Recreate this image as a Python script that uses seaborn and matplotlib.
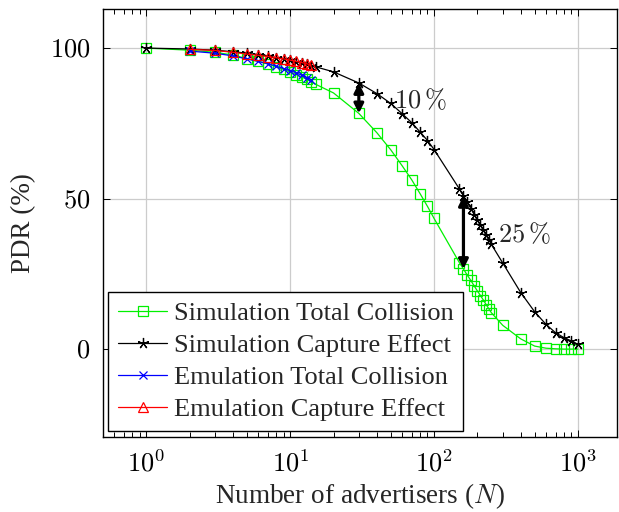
import numpy as np
import matplotlib
matplotlib.use('Agg')
import matplotlib.pyplot as plt
import matplotlib.ticker as mticker
import seaborn as sns

# ---------------------------------------------------------------
# data (PDR in %, N = number of advertisers)
# ---------------------------------------------------------------
n_sim = [1, 2, 3, 4, 5, 6, 7, 8, 9, 10, 11, 12, 13, 14, 15,
         20, 30, 40, 50, 60, 70, 80, 90, 100,
         150, 160, 170, 180, 190, 200, 210, 220, 230, 240, 250,
         300, 400, 500, 600, 700, 800, 900, 1000]

sim_total = [100, 99.3, 98.6, 97.7, 96.5, 95.6, 94.7, 93.8, 92.9, 92.1, 91.2, 90.4, 89.7, 88.8, 88.0,
             85.1, 78.3, 71.9, 66.2, 60.9, 56.2, 51.6, 47.4, 43.4,
             28.7, 26.6, 24.6, 22.8, 21.0, 19.3, 17.8, 16.3, 14.8, 13.4, 12.1,
             7.9, 3.4, 1.0, 0.3, 0.1, 0.0, 0.0, 0.0]

sim_capture = [100, 99.7, 99.3, 98.8, 98.3, 97.8, 97.3, 96.8, 96.4, 95.9, 95.5, 95.1, 94.6, 94.2, 93.8,
               92.1, 88.4, 84.9, 81.6, 78.2, 75.2, 72.1, 69.3, 66.3,
               53.2, 50.9, 48.8, 46.7, 44.7, 42.8, 41.1, 39.5, 37.8, 36.3, 34.8,
               28.6, 18.8, 12.4, 8.2, 5.4, 3.8, 2.7, 1.6]

n_emu = [2, 3, 4, 5, 6, 7, 8, 9, 10, 11, 12, 13, 14]
emu_total = [99.0, 98.3, 97.4, 96.4, 95.6, 94.8, 94.0, 93.2, 92.5, 91.8, 91.0, 90.2, 89.5]
emu_capture = [99.6, 99.2, 98.6, 98.0, 97.6, 97.2, 96.8, 96.4, 96.0, 95.6, 95.2, 94.8, 94.4]

x_ticks = [1, 10, 100, 1000]
x_ticklabels = [r'$10^{0}$', r'$10^{1}$', r'$10^{2}$', r'$10^{3}$']
y_ticks = [0, 50, 100]

# ---------------------------------------------------------------
# style
# ---------------------------------------------------------------
sns.set_style('ticks')
plt.rcParams['font.family'] = ['Liberation Serif', 'DejaVu Serif']
plt.rcParams['mathtext.fontset'] = 'cm'
plt.rcParams['font.size'] = 19

fig = plt.figure(figsize=(6.19, 5.12), dpi=100)
ax = fig.add_axes([0.1664, 0.1465, 0.8305, 0.8360])

common = dict(linewidth=0.9, markeredgewidth=0.9, markerfacecolor='none', ax=ax)

sns.lineplot(x=n_sim, y=sim_total, color='#00f000', marker='s', markersize=7,
             markeredgecolor='#00f000', label='Simulation Total Collision', **common)
sns.lineplot(x=n_sim, y=sim_capture, color='black', marker=(5, 2, 0), markersize=8,
             markeredgecolor='black', label='Simulation Capture Effect', **common)
sns.lineplot(x=n_emu, y=emu_total, color='blue', marker='x', markersize=6,
             markeredgecolor='blue', label='Emulation Total Collision', **common)
sns.lineplot(x=n_emu, y=emu_capture, color='red', marker='^', markersize=7,
             markeredgecolor='red', label='Emulation Capture Effect', **common)

ax.set_xscale('log')
ax.set_xlim(0.5, 1870)
ax.set_ylim(-29.2, 113)

ax.xaxis.set_major_locator(mticker.FixedLocator(x_ticks))
ax.xaxis.set_major_formatter(mticker.FixedFormatter(x_ticklabels))
ax.xaxis.set_minor_locator(mticker.LogLocator(base=10, subs=np.arange(2, 10)))
ax.xaxis.set_minor_formatter(mticker.NullFormatter())
ax.yaxis.set_major_locator(mticker.FixedLocator(y_ticks))
ax.yaxis.set_major_formatter(mticker.FixedFormatter([f'${v}$' for v in y_ticks]))

ax.grid(True, which='major', color='#cccccc', linewidth=0.9)
ax.set_axisbelow(True)
ax.tick_params(which='both', direction='in', top=True, right=True, width=0.7, colors='black')
ax.tick_params(which='major', length=5, labelsize=19, pad=9)
ax.tick_params(which='minor', length=3.5)
for sp in ax.spines.values():
    sp.set_linewidth(1.0)
    sp.set_color('black')

ax.set_xlabel(r'Number of advertisers ($N$)', fontsize=19.5, labelpad=4)
ax.set_ylabel('PDR (%)', fontsize=19.5, labelpad=10)

# difference arrows between simulation curves
i30 = n_sim.index(30)
i160 = n_sim.index(160)
arrow = dict(arrowstyle='<|-|>', lw=2.3, color='black', mutation_scale=14, shrinkA=0, shrinkB=0)
ax.annotate('', xy=(30, sim_total[i30]), xytext=(30, sim_capture[i30]), arrowprops=arrow)
ax.annotate('', xy=(160, sim_total[i160]), xytext=(160, sim_capture[i160]), arrowprops=arrow)
ax.text(53, 82.7, r'$10\,\%$', fontsize=19, va='center', ha='left')
ax.text(278, 38.3, r'$25\,\%$', fontsize=19, va='center', ha='left')

leg = ax.legend(loc='lower left', bbox_to_anchor=(0.01, 0.014), borderaxespad=0,
                fancybox=False, edgecolor='black', framealpha=1, fontsize=19,
                labelspacing=0.32, handlelength=1.85, handletextpad=0.25, borderpad=0.38)
leg.get_frame().set_linewidth(1.0)

fig.savefig('out.png', dpi=100)
